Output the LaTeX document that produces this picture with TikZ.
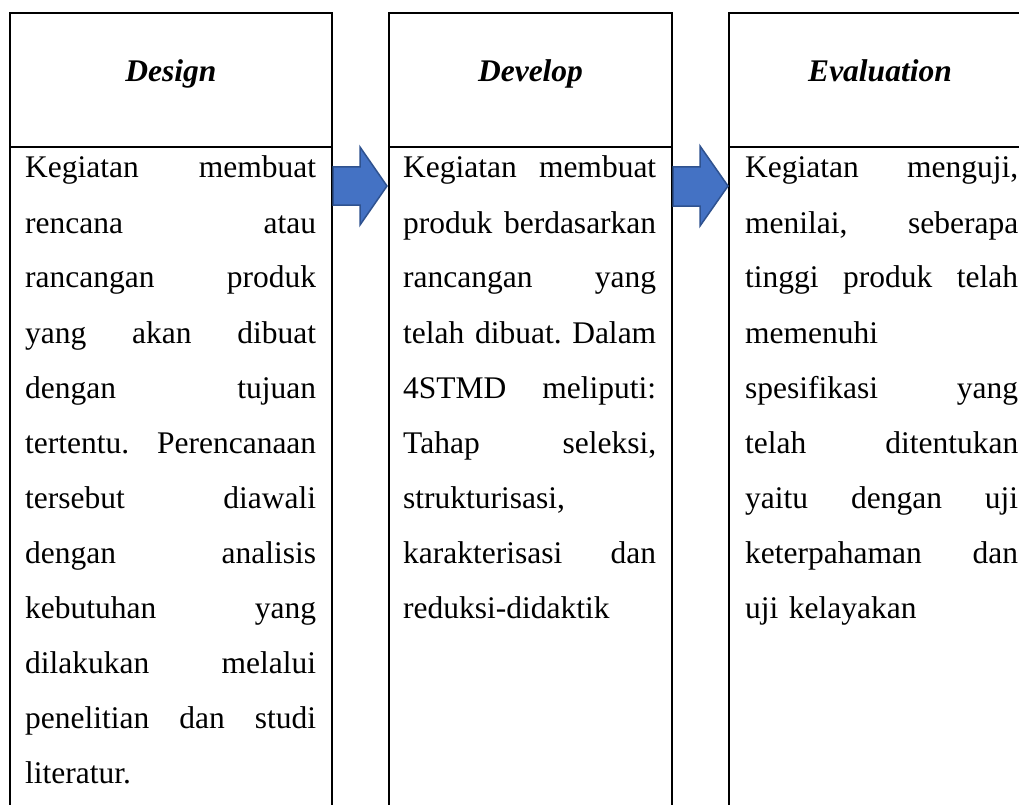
\documentclass[tikz,border=0pt]{standalone}
\usepackage{fontspec}
\setmainfont{Liberation Serif}
\definecolor{arrowfill}{HTML}{4472C4}
\definecolor{arrowdraw}{HTML}{2F528F}
\tikzset{
  cell/.style={draw=black, line width=1.3pt, inner sep=0pt, outer sep=0pt, anchor=north west},
  headtext/.style={font=\fontsize{31.5}{38}\selectfont\bfseries\itshape, anchor=base, inner sep=0pt},
  bodytext/.style={font=\fontsize{31.5}{55}\selectfont, anchor=base west, inner sep=0pt, align=left},
  blockarrow/.style={fill=arrowfill, draw=arrowdraw, line width=1.5pt, line join=miter}
}
\begin{document}
\begin{tikzpicture}[x=1pt,y=-1pt]
\clip (0,0) rectangle (1019,805);
\fill[white] (0,0) rectangle (1019,805);
% column 1
\node[cell, minimum width=322pt, minimum height=134pt] (h1) at (10,13) {};
\node[cell, minimum width=322pt, minimum height=703pt] (b1) at (10,147) {};
% column 2
\node[cell, minimum width=283pt, minimum height=134pt] (h2) at (389,13) {};
\node[cell, minimum width=283pt, minimum height=703pt] (b2) at (389,147) {};
% column 3
\node[cell, minimum width=303pt, minimum height=134pt] (h3) at (729,13) {};
\node[cell, minimum width=303pt, minimum height=703pt] (b3) at (729,147) {};
% headers
\node[headtext] (t1) at (171,82) {Design};
\node[headtext] (t2) at (530.5,82) {Develop};
\node[headtext] (t3) at (880,82) {Evaluation};
% bodies
\node[bodytext, text width=291pt] (p1) at (25,178) {%
Kegiatan\hfill membuat\\
rencana\hfill atau\\
rancangan\hfill produk\\
yang\hfill akan\hfill dibuat\\
dengan\hfill tujuan\\
tertentu.\hfill Perencanaan\\
tersebut\hfill diawali\\
dengan\hfill analisis\\
kebutuhan\hfill yang\\
dilakukan\hfill melalui\\
penelitian\hfill dan\hfill studi\\
literatur.};
\node[bodytext, text width=253pt] (p2) at (403,178) {%
Kegiatan\hfill membuat\\
produk\hfill berdasarkan\\
rancangan\hfill yang\\
telah\hfill dibuat.\hfill Dalam\\
4STMD\hfill meliputi:\\
Tahap\hfill seleksi,\\
strukturisasi,\\
karakterisasi\hfill dan\\
reduksi-didaktik};
\node[bodytext, text width=273pt] (p3) at (745,178) {%
Kegiatan\hfill menguji,\\
menilai,\hfill seberapa\\
tinggi\hfill produk\hfill telah\\
memenuhi\\
spesifikasi\hfill yang\\
telah\hfill ditentukan\\
yaitu\hfill dengan\hfill uji\\
keterpahaman\hfill dan\\
uji kelayakan};
% block arrows
\draw[blockarrow] (333,167) -- (360,167) -- (360,147) -- (387,186) -- (360,225) -- (360,205) -- (333,205) -- cycle;
\draw[blockarrow] (673,167) -- (700,167) -- (700,146) -- (728,186) -- (700,226) -- (700,206) -- (673,206) -- cycle;
\end{tikzpicture}
\end{document}
